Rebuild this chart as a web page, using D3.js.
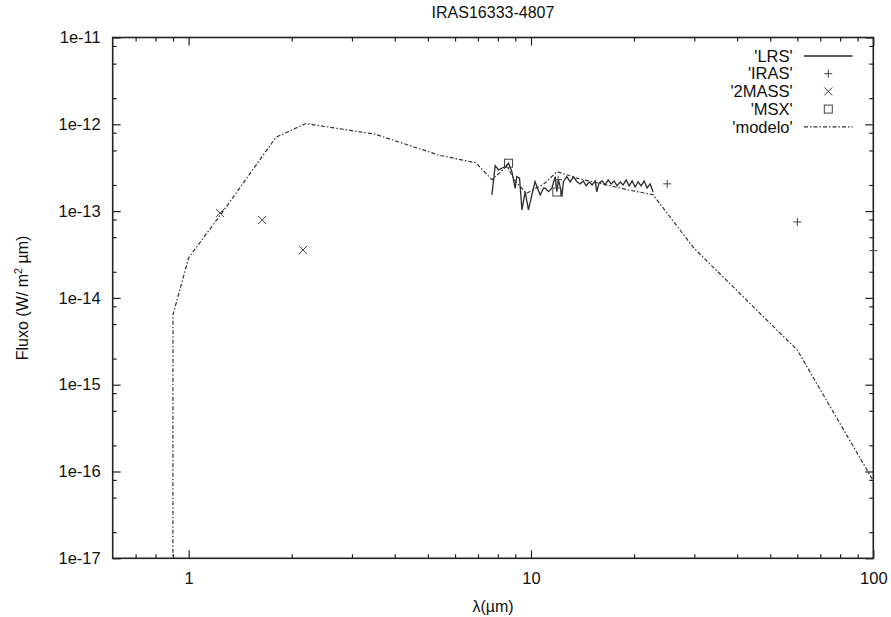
<!DOCTYPE html>
<html>
<head>
<meta charset="utf-8">
<script src="https://cdn.jsdelivr.net/npm/d3@7"></script>
<style>
  body { margin: 0; background: #fff; }
  text { font-family: "Liberation Sans", Arial, sans-serif; fill: #111; }
</style>
</head>
<body>
<svg id="chart" width="891" height="617"></svg>
<script>
// IRAS LRS spectrum
var lrsWave = [7.69,7.86,8.04,8.22,8.41,8.60,8.80,8.99,9.09,9.26,9.41,9.62,9.83,10.06,10.28,10.50,10.64,10.88,11.00,11.25,11.51,11.77,11.90,12.03,12.17,12.31,12.44,12.73,13.02,13.31,13.61,13.92,14.21,14.50,14.79,15.09,15.40,15.57,15.81,16.14,16.47,16.81,17.15,17.50,17.85,18.22,18.59,18.97,19.35,19.75,20.15,20.56,20.98,21.41,21.84,22.29,22.74];
var lrsFlux = [1.535e-13,3.339e-13,2.979e-13,3.116e-13,3.251e-13,3.556e-13,2.825e-13,1.833e-13,2.494e-13,2.390e-13,1.031e-13,1.662e-13,1.031e-13,1.535e-13,2.184e-13,1.752e-13,1.535e-13,1.833e-13,1.833e-13,1.675e-13,1.833e-13,2.494e-13,1.675e-13,2.285e-13,1.897e-13,1.467e-13,2.184e-13,2.494e-13,2.167e-13,2.494e-13,2.184e-13,2.055e-13,2.225e-13,1.949e-13,2.167e-13,2.001e-13,2.225e-13,1.662e-13,2.110e-13,2.225e-13,2.001e-13,2.285e-13,2.055e-13,2.225e-13,1.949e-13,2.167e-13,2.001e-13,2.285e-13,1.949e-13,2.225e-13,1.897e-13,2.167e-13,1.949e-13,2.225e-13,1.848e-13,2.055e-13,1.662e-13];

// photometry
var irasWave = [12, 25, 60, 100];
var irasFlux = [2.3e-13, 2.06e-13, 7.5e-14, 3.5e-14];
var tmassWave = [1.235, 1.64, 2.159];
var tmassFlux = [9.5e-14, 7.9e-14, 3.57e-14];
var msxWave = [8.6, 11.9];
var msxFlux = [3.56e-13, 1.66e-13];

// model
var modelWave = [0.899,0.9,1.0,1.25,1.8,2.2,3.5,5.4,6.9,7.7,8.5,9.0,9.7,11.0,11.9,13.6,19.3,22.7,30,60,100];
var modelFlux = [1e-20,6.4e-15,2.9e-14,9.5e-14,7.1e-13,1.02e-12,7.7e-13,4.4e-13,3.6e-13,2.3e-13,3.3e-13,2.2e-13,1.6e-13,2.1e-13,2.85e-13,2.4e-13,1.75e-13,1.55e-13,3.7e-14,2.5e-15,7.8e-17];

// ticks
var xMajor = [1, 10, 100];
var xMinor = [0.7,0.8,0.9,2,3,4,5,6,7,8,9,20,30,40,50,60,70,80,90];
var yMajor = [1e-17,1e-16,1e-15,1e-14,1e-13,1e-12,1e-11];
var yMinorMult = [2, 5, 8];
var legendNames = ["'LRS'", "'IRAS'", "'2MASS'", "'MSX'", "'modelo'"];

var svg = d3.select("#chart");
var L = 112.7, R = 873.3, T = 37.5, B = 558.3;

var x = d3.scaleLog().domain([0.6, 100]).range([L, R]);
var y = d3.scaleLog().domain([1e-17, 1e-11]).range([B, T]);

var yMinor = [];
yMajor.slice(0, -1).forEach(function (d) {
    yMinorMult.forEach(function (m) { yMinor.push(d * m); });
});

var ink = "#222";

svg.append("clipPath").attr("id", "plotclip")
    .append("rect").attr("x", L).attr("y", T).attr("width", R - L).attr("height", B - T);

function tickAxis(axis, tf, size, vals, labels) {
    var g = svg.append("g").attr("transform", tf)
        .call(axis.tickValues(vals).tickSize(size).tickSizeOuter(0)
            .tickFormat(labels ? labels : ""));
    g.select(".domain").remove();
    g.selectAll("line").attr("stroke", ink).attr("stroke-width", 1.2);
    g.selectAll("text").attr("font-size", 16.5).attr("fill", "#111")
        .style("font-family", "'Liberation Sans', Arial, sans-serif");
    return g;
}

// bottom / top
var gx = tickAxis(d3.axisBottom(x), "translate(0," + B + ")", -8, xMajor, function (d) { return d; });
gx.selectAll("text").attr("dy", null).attr("y", 26);
tickAxis(d3.axisBottom(x), "translate(0," + B + ")", -4, xMinor);
tickAxis(d3.axisTop(x), "translate(0," + T + ")", -8, xMajor);
tickAxis(d3.axisTop(x), "translate(0," + T + ")", -4, xMinor);

// left / right
var gy = tickAxis(d3.axisLeft(y), "translate(" + L + ",0)", -8, yMajor, function (d) {
    return "1e" + Math.round(Math.log10(d));
});
gy.selectAll("text").attr("x", -12);
tickAxis(d3.axisLeft(y), "translate(" + L + ",0)", -4, yMinor);
tickAxis(d3.axisRight(y), "translate(" + R + ",0)", -8, yMajor);
tickAxis(d3.axisRight(y), "translate(" + R + ",0)", -4, yMinor);

// frame
svg.append("rect").attr("x", L).attr("y", T).attr("width", R - L).attr("height", B - T)
    .attr("fill", "none").attr("stroke", ink).attr("stroke-width", 1.6);

var plot = svg.append("g").attr("clip-path", "url(#plotclip)");

var line = d3.line().x(function (d) { return x(d[0]); }).y(function (d) { return y(d[1]); });

// model
plot.append("path").datum(d3.zip(modelWave, modelFlux))
    .attr("d", line).attr("fill", "none")
    .attr("stroke", "#333").attr("stroke-width", 1.2)
    .attr("stroke-dasharray", "4,2,1.5,2");

// LRS
plot.append("path").datum(d3.zip(lrsWave, lrsFlux))
    .attr("d", line).attr("fill", "none")
    .attr("stroke", "#2a2a2a").attr("stroke-width", 1.3);

var mk = "#444";
function plus(g, cx, cy) {
    g.append("path").attr("d", "M" + (cx - 4) + "," + cy + "h8M" + cx + "," + (cy - 4) + "v8")
        .attr("stroke", mk).attr("stroke-width", 1).attr("fill", "none");
}
function cross(g, cx, cy) {
    g.append("path").attr("d", "M" + (cx - 4) + "," + (cy - 4) + "l8,8M" + (cx - 4) + "," + (cy + 4) + "l8,-8")
        .attr("stroke", mk).attr("stroke-width", 1).attr("fill", "none");
}
function box(g, cx, cy) {
    g.append("rect").attr("x", cx - 4).attr("y", cy - 4).attr("width", 8).attr("height", 8)
        .attr("stroke", mk).attr("stroke-width", 1).attr("fill", "none");
}

var pts = svg.append("g");
irasWave.forEach(function (w, i) { plus(pts, x(w), y(irasFlux[i])); });
tmassWave.forEach(function (w, i) { cross(pts, x(w), y(tmassFlux[i])); });
msxWave.forEach(function (w, i) { box(pts, x(msxWave[i]), y(msxFlux[i])); });

// legend
var lg = svg.append("g");
var lx = 792.7, sx0 = 804, sx1 = 852.7, mx = 828.3, ly0 = 56, lstep = 17.7;
legendNames.forEach(function (name, i) {
    var yy = ly0 + i * lstep;
    lg.append("text").attr("x", lx).attr("y", yy).attr("dy", "0.35em")
        .attr("text-anchor", "end").attr("font-size", 16.5).text(name);
    if (i === 0) {
        lg.append("line").attr("x1", sx0).attr("x2", sx1).attr("y1", yy).attr("y2", yy)
            .attr("stroke", "#2a2a2a").attr("stroke-width", 1.3);
    } else if (i === 1) {
        plus(lg, mx, yy);
    } else if (i === 2) {
        cross(lg, mx, yy);
    } else if (i === 3) {
        box(lg, mx, yy);
    } else {
        lg.append("line").attr("x1", sx0).attr("x2", sx1).attr("y1", yy).attr("y2", yy)
            .attr("stroke", "#333").attr("stroke-width", 1.2)
            .attr("stroke-dasharray", "4,2,1.5,2");
    }
});

// title and axis labels
svg.append("text").attr("x", (L + R) / 2).attr("y", 18).attr("text-anchor", "middle")
    .attr("font-size", 16).text("IRAS16333-4807");
svg.append("text").attr("x", (L + R) / 2).attr("y", 612).attr("text-anchor", "middle")
    .attr("font-size", 16).text("λ(µm)");
var yl = svg.append("text").attr("transform", "translate(28," + ((T + B) / 2) + ") rotate(-90)")
    .attr("text-anchor", "middle").attr("font-size", 16);
yl.append("tspan").text("Fluxo (W/ m");
yl.append("tspan").attr("baseline-shift", "super").attr("font-size", 11).text("2");
yl.append("tspan").text(" µm)");
</script>
</body>
</html>
